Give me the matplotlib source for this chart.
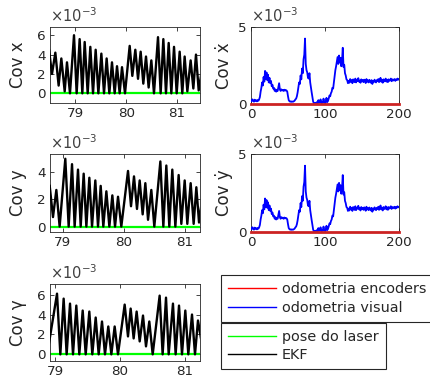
import matplotlib
matplotlib.use("Agg")
import matplotlib.pyplot as plt
from matplotlib.lines import Line2D

plt.rcParams['font.family'] = ['DejaVu Sans']
plt.rcParams['mathtext.fontset'] = 'dejavusans'

# ---------------- data (covariances in units of 1e-3) ----------------
# Cov x (EKF) vertices
t_x = [78.480, 78.539, 78.605, 78.670, 78.723, 78.789, 78.834, 78.893, 78.972, 79.024,
       79.083, 79.136, 79.182, 79.241, 79.293, 79.346, 79.398, 79.451, 79.510, 79.562,
       79.614, 79.667, 79.719, 79.772, 79.818, 79.870, 79.916, 79.975, 80.067, 80.119,
       80.178, 80.231, 80.283, 80.335, 80.388, 80.440, 80.493, 80.545, 80.624, 80.676,
       80.729, 80.781, 80.834, 80.886, 80.939, 80.991, 81.050, 81.102, 81.148, 81.201,
       81.266, 81.319, 81.371, 81.424, 81.476]
cov_x = [4.5, 2.0, 4.2, 0.8, 3.6, 0.2, 3.2, 0.0, 6.0, 0.0,
         5.6, 0.0, 5.3, 0.0, 4.8, 0.0, 4.5, 0.0, 4.1, 0.0,
         3.6, 0.0, 3.2, 0.0, 2.8, 0.0, 2.7, 0.0, 4.9, 1.8,
         4.5, 1.5, 4.3, 1.0, 3.8, 0.6, 3.4, 0.0, 5.8, 0.0,
         5.6, 0.0, 5.2, 0.0, 4.8, 0.0, 4.3, 0.0, 3.8, 0.2,
         3.4, 0.5, 4.0, 0.3, 2.0]

# Cov y (EKF) vertices
t_y = [78.782, 78.836, 78.891, 78.945, 79.038, 79.093, 79.148, 79.191, 79.246, 79.290,
       79.339, 79.383, 79.432, 79.476, 79.530, 79.574, 79.618, 79.661, 79.711, 79.760,
       79.809, 79.853, 79.902, 79.956, 80.066, 80.115, 80.164, 80.213, 80.257, 80.306,
       80.350, 80.394, 80.448, 80.497, 80.596, 80.645, 80.694, 80.743, 80.792, 80.842,
       80.896, 80.940, 80.995, 81.038, 81.093, 81.142, 81.186, 81.230, 81.279]
cov_y = [3.0, 0.7, 2.7, 0.0, 5.0, 0.0, 4.6, 0.0, 4.2, 0.0,
         3.9, 0.0, 3.6, 0.0, 3.4, 0.0, 3.0, 0.0, 2.6, 0.0,
         2.3, 0.0, 2.2, 0.0, 4.1, 1.5, 3.7, 1.3, 3.4, 0.9,
         3.2, 0.5, 2.7, 0.0, 4.8, 0.0, 4.5, 0.0, 4.2, 0.0,
         3.8, 0.2, 3.4, 0.2, 3.2, 0.2, 2.9, 0.3, 2.0]

# Cov gamma (EKF) vertices
t_g = [78.892, 79.031, 79.082, 79.133, 79.179, 79.231, 79.277, 79.328, 79.374, 79.426,
       79.472, 79.528, 79.574, 79.626, 79.672, 79.723, 79.769, 79.820, 79.867, 79.918,
       79.969, 80.072, 80.123, 80.164, 80.210, 80.256, 80.303, 80.354, 80.400, 80.451,
       80.503, 80.610, 80.656, 80.708, 80.749, 80.815, 80.856, 80.908, 80.954, 81.005,
       81.051, 81.108, 81.154, 81.200, 81.246]
cov_g = [0.5, 6.1, 0.0, 5.6, 0.0, 5.1, 0.0, 4.9, 0.0, 4.4,
         0.0, 4.3, 0.0, 3.7, 0.0, 3.3, 0.0, 2.8, 0.0, 2.8,
         0.0, 5.0, 1.8, 4.6, 1.6, 4.3, 1.3, 3.9, 0.8, 3.3,
         0.0, 5.9, 0.0, 5.7, 0.0, 5.1, 0.0, 4.9, 0.0, 4.4,
         0.0, 4.0, 0.0, 3.4, 1.6]

# laser pose covariance (zero)
laser_t = [78.0, 82.0]
laser_cov = [0.0, 0.0]

# velocity covariances (visual odometry), t = 0..200
cov_vx = [0.25, 0.18, 0.30, 0.22, 0.15, 0.28, 0.20, 0.24, 0.17, 0.26,
          0.21, 0.30, 0.45, 0.80, 1.05, 1.40, 1.20, 1.75, 1.45, 2.15,
          1.60, 2.05, 1.55, 1.90, 1.40, 1.70, 1.35, 1.50, 1.15, 1.25,
          1.00, 1.05, 0.85, 0.95, 0.80, 0.90, 0.85, 1.10, 1.35, 0.95,
          0.85, 0.95, 0.88, 0.92, 0.85, 0.93, 0.87, 0.90, 0.88, 0.80,
          0.50, 0.25, 0.18, 0.15, 0.17, 0.14, 0.16, 0.15, 0.18, 0.22,
          0.30, 0.35, 0.50, 0.75, 1.10, 1.40, 1.30, 1.85, 1.60, 2.30,
          2.00, 2.90, 3.20, 4.25, 2.60, 2.20, 2.05, 1.70, 1.65, 2.00,
          1.40, 1.05, 0.75, 0.45, 0.15, 0.05, 0.03, 0.08, 0.05, 0.12,
          0.04, 0.25, 0.08, 0.10, 0.30, 0.05, 0.12, 0.08, 0.35, 0.10,
          0.06, 0.15, 0.40, 0.12, 0.20, 0.35, 0.55, 0.50, 0.70, 0.80,
          1.05, 1.00, 1.40, 1.75, 2.20, 2.45, 2.75, 3.05, 2.60, 3.15,
          2.70, 3.00, 2.45, 2.80, 3.65, 2.40, 2.55, 2.00, 1.85, 1.60,
          1.55, 1.35, 1.50, 1.38, 1.62, 1.45, 1.55, 1.35, 1.60, 1.48,
          1.42, 1.65, 1.40, 1.55, 1.50, 1.68, 1.45, 1.52, 1.38, 1.60,
          1.47, 1.55, 1.42, 1.58, 1.50, 1.36, 1.62, 1.45, 1.53, 1.40,
          1.57, 1.48, 1.38, 1.55, 1.30, 1.50, 1.43, 1.58, 1.45, 1.40,
          1.55, 1.48, 1.62, 1.42, 1.50, 1.70, 1.45, 1.55, 1.38, 1.60,
          1.47, 1.52, 1.65, 1.45, 1.58, 1.42, 1.60, 1.50, 1.55, 1.65,
          1.48, 1.60, 1.52, 1.58, 1.62, 1.50, 1.60, 1.55, 1.65, 1.58,
          1.60]
cov_vy = list(cov_vx)
t_v = list(range(len(cov_vx)))

# wheel-encoder odometry covariance (zero)
enc_t = [0, 200]
enc_cov = [0.0, 0.0]

left_ylabels = ['Cov x', 'Cov y', 'Cov \u03b3']
right_ylabels = ['Cov \u1e8b', 'Cov \u1e8f']
left_yticks = [[0, 2, 4, 6], [0, 2, 4], [0, 2, 4, 6]]
left_xticks = [79, 80, 81]
right_xticks = [0, 100, 200]
right_yticks = [0, 5]
legend_labels = ['odometria encoders', 'odometria visual', 'pose do laser', 'EKF']

# ---------------- figure ----------------
W, H = 431, 388
fig = plt.figure(figsize=(W / 100, H / 100), dpi=100)
TXT = '#262626'


def ax_px(x0, x1, y0, y1):
    return fig.add_axes([x0 / W, 1 - y1 / H, (x1 - x0) / W, (y1 - y0) / H])


def style(ax):
    ax.tick_params(direction='in', top=True, right=True, length=3, width=0.6,
                   labelsize=9.7, colors=TXT, pad=3)
    for s in ax.spines.values():
        s.set_linewidth(0.6)
        s.set_color(TXT)
    ax.text(0.0, 1.02, r'$\times10^{-3}$', transform=ax.transAxes, ha='left',
            va='bottom', fontsize=10.5, color='#404040')


left_pos = [(50, 200, 27, 103), (50, 200, 154, 232), (50, 200, 284, 361)]
left_data = [(t_x, cov_x), (t_y, cov_y), (t_g, cov_g)]
left_xlim = [(78.5, 81.45), (78.787, 81.246), (78.923, 81.231)]
left_ylim = [(-1.0, 6.85), (-0.4, 5.35), (-0.67, 7.07)]

for i in range(3):
    ax = ax_px(*left_pos[i])
    ax.plot(laser_t, laser_cov, color='#00ff00', lw=1.6, zorder=2)
    ax.plot(left_data[i][0], left_data[i][1], color='black', lw=1.7, zorder=3)
    ax.set_xlim(*left_xlim[i])
    ax.set_ylim(*left_ylim[i])
    ax.set_xticks(left_xticks)
    ax.set_yticks(left_yticks[i])
    ax.set_ylabel(left_ylabels[i], fontsize=12, color=TXT, labelpad=7)
    style(ax)

right_pos = [(251, 399, 27, 104), (251, 399, 154, 232)]
right_data = [cov_vx, cov_vy]
for i in range(2):
    ax = ax_px(*right_pos[i])
    ax.plot(t_v, right_data[i], color='#0000ff', lw=1.3, zorder=3)
    ax.plot(enc_t, enc_cov, color='#cc2222', lw=2.0, zorder=4, clip_on=False)
    ax.set_xlim(0, 200)
    ax.set_ylim(0, 5)
    ax.set_xticks(right_xticks)
    ax.set_yticks(right_yticks)
    ax.set_ylabel(right_ylabels[i], fontsize=12, color=TXT, labelpad=4)
    style(ax)

h_enc = Line2D([], [], color='#ff0000', lw=1)
h_vis = Line2D([], [], color='#0000ff', lw=1)
h_las = Line2D([], [], color='#00ff00', lw=1)
h_ekf = Line2D([], [], color='black', lw=1)

common = dict(loc='upper left', bbox_transform=fig.transFigure, borderaxespad=0,
              frameon=True, fancybox=False, fontsize=10.4, handlelength=3.3,
              handletextpad=0.4, labelspacing=0.3, borderpad=0.5, framealpha=1)
leg1 = fig.legend([h_enc, h_vis], legend_labels[:2],
                  bbox_to_anchor=(221 / W, 1 - 275 / H), **common)
leg2 = fig.legend([h_las, h_ekf], legend_labels[2:],
                  bbox_to_anchor=(221 / W, 1 - 322.5 / H), **common)
for lg in (leg1, leg2):
    lg.get_frame().set_edgecolor(TXT)
    lg.get_frame().set_linewidth(0.8)
    for t in lg.get_texts():
        t.set_color(TXT)

fig.savefig('out.png', dpi=100)
